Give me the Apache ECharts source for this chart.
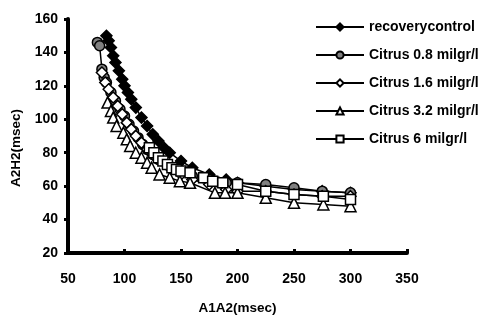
<!DOCTYPE html>
<html>
<head>
<meta charset="utf-8">
<script src="https://cdn.jsdelivr.net/npm/echarts@6/dist/echarts.min.js"></script>
<style>
html,body{margin:0;padding:0;background:#fff;}
#main{width:486px;height:316px;}
</style>
</head>
<body>
<div id="main"></div>
<script>
// A1A2 (msec) vs A2H2 (msec)
const seriesNames=['recoverycontrol','Citrus 0.8 milgr/l','Citrus 1.6 milgr/l','Citrus 3.2 milgr/l','Citrus 6 milgr/l'];
const control=[[84,150],[86,147],[88,143],[90,138],[92,134],[95,129],[98,124],[100,120],[103,116],[106,112],[110,107],[115,101],[120,96],[125,91],[130,87],[135,83],[140,80],[150,75],[160,71],[175,67],[190,64],[200,62],[225,60],[250,58],[275,57],[300,56]];
const citrus08=[[76,146],[78,144],[80,130],[82,125],[84,122],[88,116],[92,111],[96,106],[100,102],[104,97],[108,93],[112,89],[116,85],[120,82],[125,79],[130,76],[140,72],[150,69],[160,66],[175,64],[190,62],[200,62],[225,61],[250,59],[275,57],[300,56]];
const citrus16=[[80,128],[83,122],[86,118],[90,113],[94,108],[98,103],[102,98],[106,94],[110,90],[115,86],[120,82],[125,79],[130,76],[140,71],[150,67],[160,64],[175,61],[190,58],[200,57],[225,57],[250,55],[275,54],[300,54]];
const citrus32=[[85,110],[88,105],[90,101],[93,96],[99,92],[102,88],[105,84],[110,80],[115,77],[120,74],[124,71],[131,67],[140,65],[149,63],[158,62],[180,56],[189,56],[200,56],[225,53],[250,50],[276,49],[300,48]];
const citrus6=[[122,83],[126,80],[130,77],[134,75],[138,73],[142,71],[146,70],[150,69],[158,68],[170,65],[178,63],[187,62],[200,61],[225,57],[250,55],[276,54],[300,52]];

const chart=echarts.init(document.getElementById('main'),null,{renderer:'canvas'});
const font='Arial, "Liberation Sans", sans-serif';

function mkSeries(name,data,symbol,fill,size){
  return {
    name:name,
    type:'line',
    data:data,
    symbol:symbol,
    symbolSize:size,
    showAllSymbol:true,
    lineStyle:{color:'#000',width:1.5},
    itemStyle:{color:fill,borderColor:'#000',borderWidth:1.5},
    emphasis:{disabled:true},
    animation:false
  };
}

const option={
  backgroundColor:'#fff',
  animation:false,
  grid:{left:68,right:79,top:19,bottom:63,containLabel:false,outerBoundsMode:'none'},
  legend:{
    orient:'vertical',
    left:310,
    top:15,
    itemWidth:48,
    itemHeight:9,
    itemGap:14,
    data:seriesNames,
    textStyle:{fontFamily:font,fontWeight:'bold',fontSize:14,color:'#000'}
  },
  xAxis:{
    type:'value',
    min:50,max:350,interval:50,
    name:'A1A2(msec)',
    nameLocation:'middle',
    nameGap:48,
    nameTextStyle:{fontFamily:font,fontWeight:'bold',fontSize:13.5,color:'#000'},
    axisLine:{show:true,onZero:false,lineStyle:{color:'#000',width:4,cap:'round'}},
    axisTick:{show:true,inside:true,length:4,lineStyle:{color:'#000',width:3}},
    axisLabel:{fontFamily:font,fontWeight:'bold',fontSize:14,color:'#000',margin:19},
    splitLine:{show:false}
  },
  yAxis:{
    type:'value',
    min:20,max:160,interval:20,
    name:'A2H2(msec)',
    nameLocation:'middle',
    nameGap:42,
    nameTextStyle:{fontFamily:font,fontWeight:'bold',fontSize:13.5,color:'#000',padding:[0,24,0,0]},
    axisLine:{show:true,onZero:false,lineStyle:{color:'#000',width:4,cap:'round'}},
    axisTick:{show:true,length:4,lineStyle:{color:'#000',width:3}},
    axisLabel:{fontFamily:font,fontWeight:'bold',fontSize:14,color:'#000',margin:10},
    splitLine:{show:false}
  },
  series:[
    mkSeries(seriesNames[0],control,'diamond','#000',11),
    mkSeries(seriesNames[1],citrus08,'circle','#808080',10),
    mkSeries(seriesNames[2],citrus16,'diamond','#fff',11),
    mkSeries(seriesNames[3],citrus32,'triangle','#fff',11),
    mkSeries(seriesNames[4],citrus6,'rect','#fff',10)
  ]
};
chart.setOption(option);
</script>
</body>
</html>
